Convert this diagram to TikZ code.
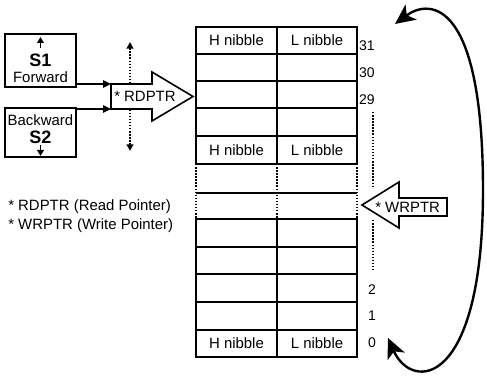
\documentclass[tikz,border=0pt]{standalone}
\usepackage{fontspec}
\setmainfont{Liberation Sans}
\usetikzlibrary{arrows.meta}
\tikzset{
  px/.style={x=0.75pt,y=-0.75pt},
  ln/.style={line width=1.2pt},
  thk/.style={line width=1.9pt},
  dotln/.style={line width=1.3pt,dash pattern=on 1.1pt off 1.2pt},
  txt/.style={inner sep=0pt,font=\fontsize{11.2}{13}\selectfont},
  num/.style={inner sep=0pt,font=\fontsize{10.5}{12}\selectfont},
  big/.style={inner sep=0pt,font=\fontsize{13.5}{15}\selectfont\bfseries},
  tip/.style={-{Triangle[length=6pt,width=5.5pt]}},
  bigtip/.style={{Stealth[length=15pt,width=14pt,inset=4pt]}-{Stealth[length=15pt,width=14pt,inset=4pt]}},
}
\begin{document}
\begin{tikzpicture}[px]
\useasboundingbox (0,0) rectangle (487,377);
% ---- table ----
\draw[ln] (196,27) rectangle (357,164);
\foreach \y in {54,81,108} \draw[ln] (196,\y) -- (357,\y);
\draw[thk] (196,136) -- (357,136);
\draw[ln] (277,27) -- (277,164);
\foreach \x in {196,277,357} \draw[dotln] (\x,164) -- (\x,219);
\draw[thk] (196,193) -- (357,193);
\draw[ln] (196,219) rectangle (357,357);
\foreach \y in {247,274,302,330} \draw[ln] (196,\y) -- (357,\y);
\draw[ln] (277,219) -- (277,357);
\node[txt] (h1) at (236.5,40.5) {H nibble};
\node[txt] (l1) at (317,40.5) {L nibble};
\node[txt] (h2) at (236.5,150) {H nibble};
\node[txt] (l2) at (317,150) {L nibble};
\node[txt] (h3) at (236.5,343.5) {H nibble};
\node[txt] (l3) at (317,343.5) {L nibble};
% ---- numbers ----
\node[num] (n31) at (367,46) {31};
\node[num] (n30) at (367,73) {30};
\node[num] (n29) at (367,100) {29};
\node[num] (n2) at (372,290) {2};
\node[num] (n1) at (372,316) {1};
\node[num] (n0) at (372,343) {0};
\draw[dotln] (373,112) -- (373,186);
\draw[dotln] (373,220) -- (373,270);
% ---- S1 / S2 boxes ----
\draw[ln] (5,34) rectangle (76,87);
\node[big] (s1) at (40.5,60) {S1};
\node[txt] (fw) at (40.5,77) {Forward};
\draw[line width=1.2pt,-{Triangle[length=4.5pt,width=5pt]}] (40.5,48) -- (40.5,37);
\draw[ln] (5,108) rectangle (76,157);
\node[txt] (bw) at (40.5,120) {Backward};
\node[big] (s2) at (40.5,137) {S2};
\draw[line width=1.2pt,-{Triangle[length=4.5pt,width=5pt]}] (40.5,145) -- (40.5,156);
% ---- dotted double arrow ----
\coordinate (dtop) at (130,42);
\coordinate (dbot) at (130,151);
\draw[dotln,{Triangle[length=5pt,width=5pt]}-{Triangle[length=5pt,width=5pt]}] (dtop) -- (dbot);
% ---- RDPTR block arrow ----
\coordinate (r1) at (111,84);
\coordinate (r2) at (152,84);
\coordinate (r3) at (152,72);
\coordinate (rt) at (193,96.5);
\coordinate (r4) at (152,121);
\coordinate (r5) at (152,109);
\coordinate (r6) at (111,109);
\draw[ln,fill=white,line join=miter] (r1) -- (r2) -- (r3) -- (rt) -- (r4) -- (r5) -- (r6) -- cycle;
\node[txt,anchor=west] (rd) at (114,96.5) {* RDPTR};
\coordinate (s1out) at (76,84);
\coordinate (s2out) at (76,109);
\draw[ln,tip] (s1out) -- (r1);
\draw[ln,tip] (s2out) -- (r6);
% ---- WRPTR block arrow ----
\coordinate (w1) at (447,198);
\coordinate (w2) at (399,198);
\coordinate (w3) at (399,182);
\coordinate (wt) at (362,205);
\coordinate (w4) at (399,228);
\coordinate (w5) at (399,216);
\coordinate (w6) at (447,216);
\draw[ln,fill=white,line join=miter] (w1) -- (w2) -- (w3) -- (wt) -- (w4) -- (w5) -- (w6) -- cycle;
\node[txt,anchor=west] (wr) at (375,207) {* WRPTR};
% ---- wrap-around curve ----
\coordinate (ctop) at (395,24);
\coordinate (cbot) at (388,338);
\draw[line width=1.8pt,bigtip]
  (ctop) .. controls (430,-2) and (483,0) .. (483,190)
  .. controls (483,388) and (412,392) .. (cbot);
% ---- legend ----
\node[txt,anchor=west] (lg1) at (8,207) {* RDPTR (Read Pointer)};
\node[txt,anchor=west] (lg2) at (8,226) {* WRPTR (Write Pointer)};
\end{tikzpicture}
\end{document}
